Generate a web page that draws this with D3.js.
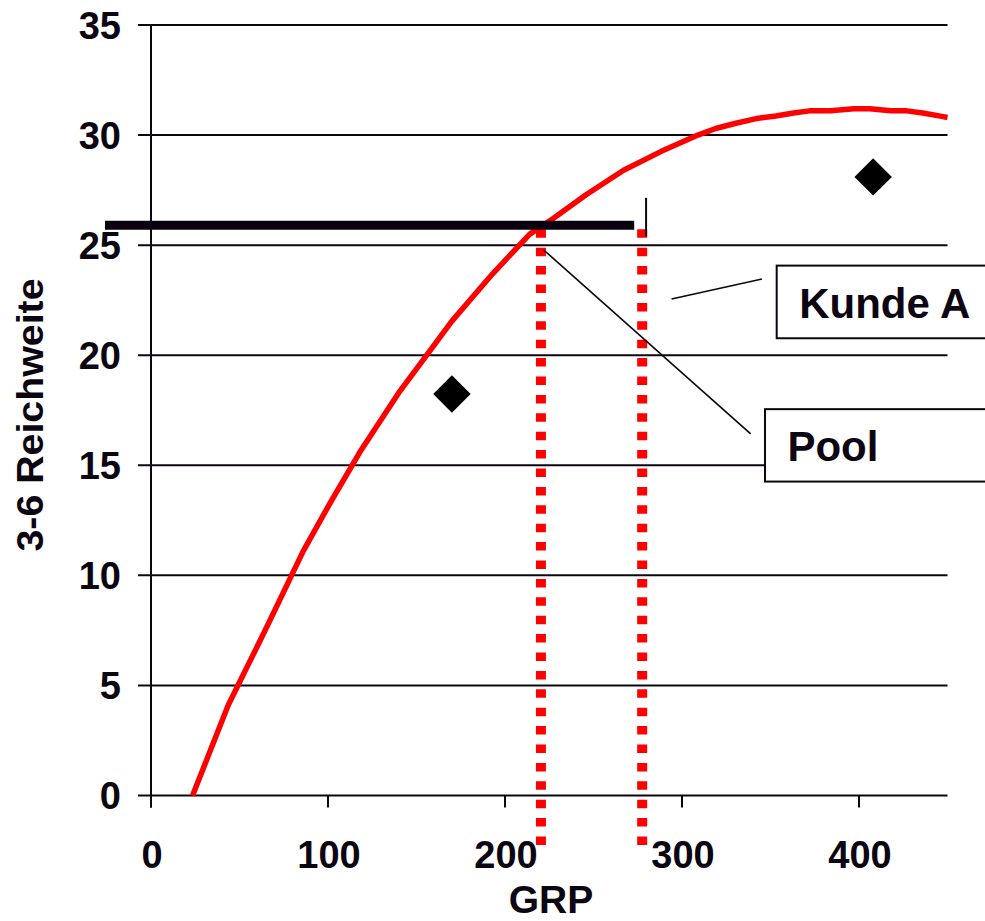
<!DOCTYPE html>
<html>
<head>
<meta charset="utf-8">
<script src="https://cdn.jsdelivr.net/npm/d3@7"></script>
<style>
  body { margin: 0; background: #fff; }
  svg { display: block; }
  text { font-family: "Liberation Sans", Arial, sans-serif; font-weight: bold; fill: #0c0612; }
</style>
</head>
<body>
<svg id="chart" width="985" height="921"></svg>
<script>
// Axis ticks
const grpTicks = [0, 100, 200, 300, 400];
const reachTicks = [0, 5, 10, 15, 20, 25, 30, 35];

// Reach curve (GRP -> 3-6 Reichweite)
const curveGrp   = [23.5, 43.6, 65.4, 86, 101, 118, 140, 152, 170, 193, 214, 227, 246, 267, 288, 309, 319, 331, 342, 353, 363, 372, 384, 397, 406, 418, 427, 436, 446, 450];
const curveReach = [0, 4.1, 7.65, 11.1, 13.26, 15.6, 18.3, 19.6, 21.55, 23.7, 25.5, 26.2, 27.3, 28.4, 29.25, 30.0, 30.3, 30.55, 30.75, 30.87, 31.0, 31.1, 31.1, 31.2, 31.2, 31.1, 31.1, 31.0, 30.86, 30.8];

// Single observations
const pointGrp   = [170, 408];
const pointReach = [18.24, 28.1];

// Target reach line
const targetReach = 25.9;
const targetGrpSpan = [-26, 273];

// Dotted GRP markers (Pool, Kunde A)
const markerGrp = [220.3, 277.5];
const markerTop = [25.72, 25.72];
const markerBottom = [-2.33, -2.5];

// Small vertical tick above the Kunde A marker
const tickGrp = 279.7;
const tickReach = [27.15, 25.4];

// Callouts: label, leader line (from/to in data units), box left/top/bottom
const calloutLabels = ["Kunde A", "Pool"];
const calloutFrom = [[294.1, 22.55], [221.9, 24.78]];
const calloutTo   = [[345.2, 23.46], [338.8, 16.43]];
const calloutBoxLeft   = [353.5, 346.9];
const calloutBoxTop    = [24.07, 17.55];
const calloutBoxBottom = [20.77, 14.26];

const svg = d3.select("#chart");
const x = d3.scaleLinear().domain([0, 450]).range([151, 947.5]);
const y = d3.scaleLinear().domain([0, 35]).range([795.5, 25]);
const ink = "#0c0612";

// Horizontal gridlines
svg.append("g").selectAll("line").data(reachTicks).join("line")
  .attr("x1", 138).attr("x2", x(450))
  .attr("y1", d => y(d)).attr("y2", d => y(d))
  .attr("stroke", ink).attr("stroke-width", 2);

// Y axis line
svg.append("line")
  .attr("x1", x(0)).attr("x2", x(0))
  .attr("y1", y(35)).attr("y2", y(0) + 12)
  .attr("stroke", ink).attr("stroke-width", 2);

// X tick marks
svg.append("g").selectAll("line").data(grpTicks).join("line")
  .attr("x1", d => x(d)).attr("x2", d => x(d))
  .attr("y1", y(0)).attr("y2", y(0) + 12)
  .attr("stroke", ink).attr("stroke-width", 2);

// Y tick labels
svg.append("g").selectAll("text").data(reachTicks).join("text")
  .attr("x", 121).attr("y", d => y(d))
  .attr("dy", "0.36em")
  .attr("text-anchor", "end")
  .attr("font-size", 38)
  .text(d => d);

// X tick labels
svg.append("g").selectAll("text").data(grpTicks).join("text")
  .attr("x", d => x(d) + 1).attr("y", 868)
  .attr("text-anchor", "middle")
  .attr("font-size", 38)
  .text(d => d);

// Axis titles
svg.append("text")
  .attr("x", 551).attr("y", 913)
  .attr("text-anchor", "middle")
  .attr("font-size", 39)
  .text("GRP");

svg.append("text")
  .attr("transform", "translate(43,415) rotate(-90)")
  .attr("text-anchor", "middle")
  .attr("font-size", 37)
  .attr("textLength", 273)
  .attr("lengthAdjust", "spacingAndGlyphs")
  .text("3-6 Reichweite");

// Reach curve
const curveData = curveGrp.map((g, i) => [g, curveReach[i]]);
svg.append("path")
  .datum(curveData)
  .attr("fill", "none")
  .attr("stroke", "#ff0000")
  .attr("stroke-width", 5.5)
  .attr("stroke-linejoin", "round")
  .attr("d", d3.line().x(d => x(d[0])).y(d => y(d[1])).curve(d3.curveLinear));

// Dotted markers
svg.append("g").selectAll("line").data(markerGrp).join("line")
  .attr("x1", d => x(d)).attr("x2", d => x(d))
  .attr("y1", (d, i) => y(markerTop[i])).attr("y2", (d, i) => y(markerBottom[i]))
  .attr("stroke", "#ff0000").attr("stroke-width", 10)
  .attr("stroke-dasharray", "8.5,9.9");

// Target line
svg.append("line")
  .attr("x1", x(targetGrpSpan[0])).attr("x2", x(targetGrpSpan[1]))
  .attr("y1", y(targetReach)).attr("y2", y(targetReach))
  .attr("stroke", "#0a0010").attr("stroke-width", 9);

// Small vertical tick
svg.append("line")
  .attr("x1", x(tickGrp)).attr("x2", x(tickGrp))
  .attr("y1", y(tickReach[0])).attr("y2", y(tickReach[1]))
  .attr("stroke", ink).attr("stroke-width", 2);

// Observation diamonds
svg.append("g").selectAll("path").data(pointGrp).join("path")
  .attr("transform", (d, i) => `translate(${x(d)},${y(pointReach[i])}) rotate(45)`)
  .attr("d", d3.symbol().type(d3.symbolSquare).size(700))
  .attr("fill", "#000");

// Callout leaders and boxes
const callouts = svg.append("g");
calloutLabels.forEach((label, i) => {
  callouts.append("line")
    .attr("x1", x(calloutFrom[i][0])).attr("y1", y(calloutFrom[i][1]))
    .attr("x2", x(calloutTo[i][0])).attr("y2", y(calloutTo[i][1]))
    .attr("stroke", ink).attr("stroke-width", 1.6);
  const bx = x(calloutBoxLeft[i]);
  const by = y(calloutBoxTop[i]);
  const bh = y(calloutBoxBottom[i]) - by;
  callouts.append("rect")
    .attr("x", bx).attr("y", by)
    .attr("width", 1000 - bx).attr("height", bh)
    .attr("fill", "#fff").attr("stroke", ink).attr("stroke-width", 2);
  callouts.append("text")
    .attr("x", bx + 22.5 - i * 0.1).attr("y", by + bh * 0.72)
    .attr("font-size", 42)
    .text(label);
});
</script>
</body>
</html>
